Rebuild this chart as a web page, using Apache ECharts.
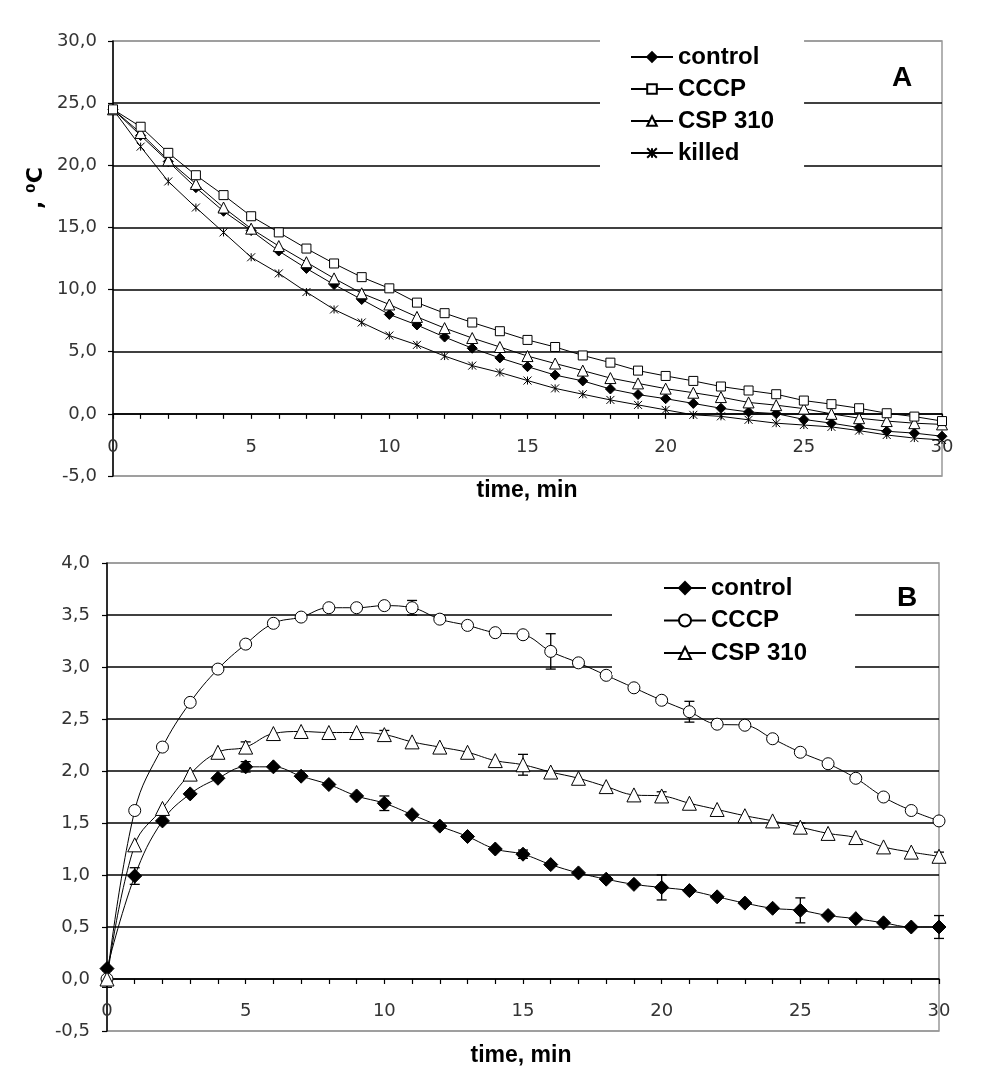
<!DOCTYPE html>
<html><head><meta charset="utf-8">
<script src="https://cdn.jsdelivr.net/npm/echarts@6/dist/echarts.min.js"></script>
<style>html,body{margin:0;padding:0;background:#fff}#c{width:986px;height:1086px}</style>
</head><body><div id="c"></div>
<script>
// ---------- data ----------
const minutes = [0,1,2,3,4,5,6,7,8,9,10,11,12,13,14,15,16,17,18,19,20,21,22,23,24,25,26,27,28,29,30];
const xTicks = [0,5,10,15,20,25,30];
const aYTicks = [-5,0,5,10,15,20,25,30];
const bYTicks = [-0.5,0,0.5,1,1.5,2,2.5,3,3.5,4];

// Panel A (temperature, °C)
const aControl = [24.5,22.4,20.3,18.2,16.3,14.75,13.1,11.7,10.4,9.2,8.0,7.15,6.18,5.28,4.5,3.8,3.12,2.65,2.0,1.55,1.22,0.84,0.45,0.15,0.02,-0.45,-0.75,-1.1,-1.4,-1.55,-1.8];
const aCCCP    = [24.5,23.1,21.0,19.2,17.6,15.9,14.6,13.3,12.1,11.0,10.1,8.95,8.1,7.35,6.65,5.95,5.38,4.7,4.12,3.48,3.05,2.65,2.2,1.88,1.58,1.07,0.78,0.45,0.05,-0.22,-0.58];
const aCSP310  = [24.5,22.6,20.4,18.5,16.6,14.9,13.5,12.2,10.9,9.7,8.8,7.8,6.9,6.1,5.38,4.65,4.05,3.48,2.88,2.45,2.03,1.7,1.35,0.92,0.7,0.42,0.0,-0.35,-0.58,-0.75,-0.85];
const aKilled  = [24.5,21.5,18.7,16.6,14.6,12.6,11.3,9.8,8.4,7.35,6.3,5.55,4.65,3.88,3.33,2.68,2.05,1.58,1.12,0.72,0.32,-0.08,-0.2,-0.48,-0.75,-0.9,-1.05,-1.35,-1.7,-1.95,-2.1];

// Panel B
const bControl = [0.1,0.99,1.52,1.78,1.93,2.04,2.04,1.95,1.87,1.76,1.69,1.58,1.47,1.37,1.25,1.20,1.10,1.02,0.96,0.91,0.88,0.85,0.79,0.73,0.68,0.66,0.61,0.58,0.54,0.50,0.50];
const bCCCP    = [0.0,1.62,2.23,2.66,2.98,3.22,3.42,3.48,3.57,3.57,3.59,3.57,3.46,3.40,3.33,3.31,3.15,3.04,2.92,2.80,2.68,2.57,2.45,2.44,2.31,2.18,2.07,1.93,1.75,1.62,1.52];
const bCSP310  = [0.0,1.29,1.64,1.97,2.18,2.23,2.36,2.38,2.37,2.37,2.35,2.28,2.23,2.18,2.10,2.06,1.99,1.93,1.85,1.77,1.76,1.69,1.63,1.57,1.52,1.46,1.40,1.36,1.27,1.22,1.18];
// error bars: [minute, half-width]
const bControlErr = [[1,0.08],[5,0.05],[10,0.07],[15,0.04],[20,0.12],[25,0.12],[30,0.11]];
const bCCCPErr    = [[11,0.07],[16,0.17],[21,0.10]];
const bCSP310Err  = [[0,0.08],[5,0.05],[10,0.04],[15,0.10],[20,0.04],[25,0.04],[30,0.04]];

// ---------- helpers ----------
const pairs = ys => minutes.map((m, i) => [m, ys[i]]);
const errData = (vals, errs) => errs.map(([m, e]) => [m, vals[m] - e, vals[m] + e]);
const fmtComma = v => v.toFixed(1).replace('.', ',');
const tickFont = {fontFamily: 'DejaVu Sans', fontSize: 18, color: '#333'};
const legendFont = {fontFamily: 'Liberation Sans, Arial', fontWeight: 'bold', fontSize: 24, color: '#000', lineHeight: 24};
const starPath = 'path://M0,0L10,10M10,0L0,10M5,0L5,10';

const gridA = {left: 113, top: 41, right: 44, height: 435};
const gridB = {left: 107, top: 563, right: 47, height: 468};

// x axis sits on the y = 0 line: shift it up from the grid bottom by the y-axis share below zero
function xAxisFor(gridIndex, grid, yTicks, margin) {
  const lo = yTicks[0], hi = yTicks[yTicks.length - 1];
  const shift = grid.height * (0 - lo) / (hi - lo);
  return {
    gridIndex, type: 'value', min: xTicks[0], max: xTicks[xTicks.length - 1], interval: 1,
    offset: -shift,
    axisLine: {onZero: false, lineStyle: {color: '#000', width: 1.5}},
    axisTick: {show: true, length: 5, lineStyle: {color: '#000', width: 1.2}},
    axisLabel: Object.assign({margin, formatter: v => xTicks.includes(v) ? String(v) : ''}, tickFont),
    splitLine: {show: false}
  };
}
function yAxisFor(gridIndex, ticks, margin) {
  const colors = ticks.map((t, i) => (i === 0 || i === ticks.length - 1) ? '#999' : '#000');
  return {
    gridIndex, type: 'value', min: ticks[0], max: ticks[ticks.length - 1], interval: ticks[1] - ticks[0],
    axisLine: {show: true, onZero: false, lineStyle: {color: '#000', width: 1.5}},
    axisTick: {show: true, length: 5, lineStyle: {color: '#000', width: 1.2}},
    axisLabel: Object.assign({margin, formatter: fmtComma}, tickFont),
    splitLine: {show: true, lineStyle: {color: colors, width: 1.5}}
  };
}
function lineSeries(name, data, xi, symbol, size, fill, smooth) {
  return {
    name, type: 'line', xAxisIndex: xi, yAxisIndex: xi, data: pairs(data),
    symbol, symbolSize: size, smooth: smooth || false, z: 3,
    lineStyle: {color: '#000', width: 1},
    itemStyle: {color: fill, borderColor: '#000', borderWidth: 1},
    emphasis: {disabled: true}, animation: false
  };
}
function errSeries(name, vals, errs) {
  return {
    name, type: 'custom', xAxisIndex: 1, yAxisIndex: 1, data: errData(vals, errs), z: 2,
    encode: {x: 0, y: [1, 2]}, animation: false, silent: true,
    renderItem: (params, api) => {
      const x = api.value(0);
      const p1 = api.coord([x, api.value(1)]);
      const p2 = api.coord([x, api.value(2)]);
      const st = {stroke: '#000', lineWidth: 1.3};
      const w = 5;
      return {type: 'group', children: [
        {type: 'line', shape: {x1: p1[0], y1: p1[1], x2: p2[0], y2: p2[1]}, style: st},
        {type: 'line', shape: {x1: p1[0] - w, y1: p1[1], x2: p1[0] + w, y2: p1[1]}, style: st},
        {type: 'line', shape: {x1: p2[0] - w, y1: p2[1], x2: p2[0] + w, y2: p2[1]}, style: st}
      ]};
    }
  };
}

const option = {
  backgroundColor: '#fff',
  animation: false,
  grid: [
    Object.assign({show: true, borderColor: '#999', borderWidth: 1.5, backgroundColor: 'transparent'}, gridA),
    Object.assign({show: true, borderColor: '#999', borderWidth: 1.5, backgroundColor: 'transparent'}, gridB)
  ],
  xAxis: [xAxisFor(0, gridA, aYTicks, 24), xAxisFor(1, gridB, bYTicks, 23)],
  yAxis: [yAxisFor(0, aYTicks, 16), yAxisFor(1, bYTicks, 17)],
  legend: [
    {
      data: ['control', 'CCCP', 'CSP 310', 'killed'], orient: 'vertical', left: 600, top: 38,
      padding: [7, 30, 8, 30], itemGap: 8, itemWidth: 42, itemHeight: 12,
      backgroundColor: '#fff', textStyle: legendFont, selectedMode: false
    },
    {
      data: ['B:control', 'B:CCCP', 'B:CSP 310'], orient: 'vertical', left: 612, top: 566,
      padding: [10, 48, 10, 51], itemGap: 8.5, itemWidth: 42, itemHeight: 15,
      backgroundColor: '#fff', textStyle: legendFont, selectedMode: false,
      formatter: n => n.replace('B:', '')
    }
  ],
  graphic: [
    {type: 'text', left: 892, top: 64, z: 10, style: {text: 'A', fill: '#000', font: 'bold 28px "Liberation Sans", Arial'}},
    {type: 'text', left: 897, top: 584, z: 10, style: {text: 'B', fill: '#000', font: 'bold 28px "Liberation Sans", Arial'}},
    {type: 'text', x: 36, y: 188, rotation: Math.PI / 2, z: 10,
     style: {text: ', \u2070C', fill: '#000', font: 'bold 22px "DejaVu Sans"', align: 'center', verticalAlign: 'middle'}},
    {type: 'text', x: 527, y: 491, z: 10,
     style: {text: 'time, min', fill: '#000', font: 'bold 23px "Liberation Sans", Arial', align: 'center', verticalAlign: 'middle'}},
    {type: 'text', x: 521, y: 1056, z: 10,
     style: {text: 'time, min', fill: '#000', font: 'bold 23px "Liberation Sans", Arial', align: 'center', verticalAlign: 'middle'}}
  ],
  series: [
    lineSeries('killed', aKilled, 0, starPath, 8, '#000'),
    lineSeries('control', aControl, 0, 'diamond', 10, '#000'),
    lineSeries('CSP 310', aCSP310, 0, 'triangle', 11, '#fff'),
    lineSeries('CCCP', aCCCP, 0, 'rect', 9, '#fff'),
    errSeries('errControl', bControl, bControlErr),
    errSeries('errCCCP', bCCCP, bCCCPErr),
    errSeries('errCSP', bCSP310, bCSP310Err),
    lineSeries('B:control', bControl, 1, 'diamond', 14, '#000', 0.4),
    lineSeries('B:CCCP', bCCCP, 1, 'circle', 12, '#fff', 0.4),
    lineSeries('B:CSP 310', bCSP310, 1, 'triangle', 14, '#fff', 0.4)
  ]
};
const chart = echarts.init(document.getElementById('c'), null, {renderer: 'canvas'});
chart.setOption(option);
</script>
</body></html>
